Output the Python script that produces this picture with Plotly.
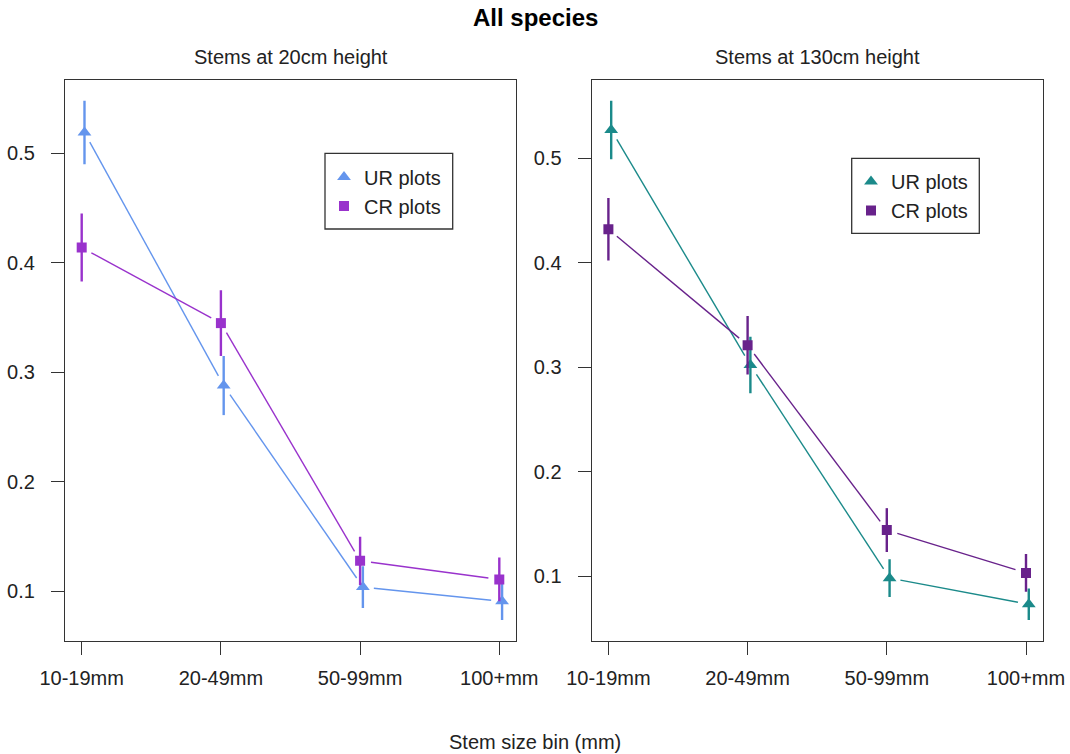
import plotly.graph_objects as go

# ---------------- data ----------------
categories = ["10-19mm", "20-49mm", "50-99mm", "100+mm"]
y_ticks = [0.1, 0.2, 0.3, 0.4, 0.5]

# Stems at 20cm height
ur20 = [0.519, 0.288, 0.104, 0.091]
ur20_err = [0.029, 0.027, 0.019, 0.017]
cr20 = [0.414, 0.345, 0.128, 0.111]
cr20_err = [0.031, 0.030, 0.022, 0.020]

# Stems at 130cm height
ur130 = [0.527, 0.302, 0.098, 0.073]
ur130_err = [0.028, 0.027, 0.018, 0.015]
cr130 = [0.432, 0.321, 0.144, 0.103]
cr130_err = [0.030, 0.028, 0.021, 0.018]

# ---------------- style / layout ----------------
W, H = 1070, 754
FONT = "Liberation Sans, Arial, Helvetica, sans-serif"
UR_OFF = 0.02
x_pos = [1, 2, 3, 4]
X_RANGE = [0.88, 4.12]
ydom = [1 - 640.7 / H, 1 - 80 / H]
xdom1 = [65 / W, 516 / W]
xdom2 = [591.7 / W, 1042.7 / W]

col_ur1, col_cr1 = "#6495ED", "#9932CC"
col_ur2, col_cr2 = "#1B8A8A", "#68228B"


def r_range(*pairs):
    lo = min(v - e for vals, errs in pairs for v, e in zip(vals, errs))
    hi = max(v + e for vals, errs in pairs for v, e in zip(vals, errs))
    span = hi - lo
    return [lo - 0.04 * span, hi + 0.04 * span]


yr1 = r_range((ur20, ur20_err), (cr20, cr20_err))
yr2 = r_range((ur130, ur130_err), (cr130, cr130_err))


def gapped(xs, ys, xdom, yrange, gap=11):
    """R type='b' style: segments between points with a gap around each point."""
    pxx = (xdom[1] - xdom[0]) * W / (X_RANGE[1] - X_RANGE[0])
    pxy = (ydom[1] - ydom[0]) * H / (yrange[1] - yrange[0])
    ox, oy = [], []
    for i in range(len(xs) - 1):
        dx = (xs[i + 1] - xs[i]) * pxx
        dy = (ys[i + 1] - ys[i]) * pxy
        d = (dx ** 2 + dy ** 2) ** 0.5
        f = gap / d
        ox += [xs[i] + (xs[i + 1] - xs[i]) * f, xs[i + 1] - (xs[i + 1] - xs[i]) * f, None]
        oy += [ys[i] + (ys[i + 1] - ys[i]) * f, ys[i + 1] - (ys[i + 1] - ys[i]) * f, None]
    return ox, oy


fig = go.Figure()


def add_panel(ur, ur_err, cr, cr_err, cu, cc, xa, ya, xdom, yrange, legend):
    xu = [x + UR_OFF for x in x_pos]
    xc = list(x_pos)
    for xs, ys, c in ((xu, ur, cu), (xc, cr, cc)):
        gx, gy = gapped(xs, ys, xdom, yrange)
        fig.add_trace(go.Scatter(x=gx, y=gy, mode="lines", line=dict(color=c, width=1.4),
                                 showlegend=False, hoverinfo="skip", xaxis=xa, yaxis=ya))
    fig.add_trace(go.Scatter(
        x=xu, y=ur, mode="markers", name="UR plots",
        marker=dict(symbol="triangle-up", size=12, color=cu),
        error_y=dict(type="data", array=ur_err, color=cu, thickness=2.4, width=0),
        xaxis=xa, yaxis=ya, legend=legend))
    fig.add_trace(go.Scatter(
        x=xc, y=cr, mode="markers", name="CR plots",
        marker=dict(symbol="square", size=10, color=cc),
        error_y=dict(type="data", array=cr_err, color=cc, thickness=2.4, width=0),
        xaxis=xa, yaxis=ya, legend=legend))


add_panel(ur20, ur20_err, cr20, cr20_err, col_ur1, col_cr1, "x", "y", xdom1, yr1, "legend")
add_panel(ur130, ur130_err, cr130, cr130_err, col_ur2, col_cr2, "x2", "y2", xdom2, yr2, "legend2")

axis_common = dict(showline=True, mirror=True, linecolor="#333333", linewidth=1.3,
                   ticks="outside", ticklen=13, tickwidth=1.3, tickcolor="#333333",
                   showgrid=False, zeroline=False, automargin=False,
                   tickfont=dict(size=20, color="#222222", family=FONT))

xaxis_common = dict(axis_common, range=X_RANGE, tickvals=x_pos, ticktext=categories,
                    ticklabelstandoff=6)
yaxis_common = dict(axis_common, tickvals=y_ticks, ticktext=[f"{v:.1f}" for v in y_ticks],
                    ticklabelstandoff=12, domain=ydom)

legend_common = dict(bgcolor="rgba(0,0,0,0)", borderwidth=0,
                     font=dict(size=20, color="#222222", family=FONT),
                     xanchor="left", yanchor="middle", tracegroupgap=0, itemwidth=30)

# legend frames (R-style boxes), in pixel coords converted to paper fractions
leg_boxes = [(325, 153.3, 452.7, 229), (851.7, 158.3, 979.3, 233.3)]
shapes = [dict(type="rect", xref="paper", yref="paper",
               x0=x0 / W, x1=x1 / W, y0=1 - y1 / H, y1=1 - y0 / H,
               line=dict(color="#333333", width=1.3), fillcolor="white", layer="below")
          for x0, y0, x1, y1 in leg_boxes]

fig.update_layout(
    width=W, height=H,
    margin=dict(l=0, r=0, t=0, b=0),
    paper_bgcolor="white", plot_bgcolor="white",
    font=dict(family=FONT, color="#222222"),
    xaxis=dict(xaxis_common, domain=xdom1, anchor="y"),
    yaxis=dict(yaxis_common, range=yr1, anchor="x"),
    xaxis2=dict(xaxis_common, domain=xdom2, anchor="y2"),
    yaxis2=dict(yaxis_common, range=yr2, anchor="x2"),
    legend=dict(legend_common, x=324 / W, y=1 - 191.5 / H),
    legend2=dict(legend_common, x=851 / W, y=1 - 196 / H),
    shapes=shapes,
    annotations=[
        dict(text="<b>All species</b>", x=0.5, y=1 - 18 / H, xref="paper", yref="paper",
             showarrow=False, font=dict(size=24, color="black", family=FONT),
             xanchor="center", yanchor="middle"),
        dict(text="Stems at 20cm height", x=(xdom1[0] + xdom1[1]) / 2, y=1 - 57 / H,
             xref="paper", yref="paper", showarrow=False,
             font=dict(size=20, color="#222222", family=FONT), xanchor="center", yanchor="middle"),
        dict(text="Stems at 130cm height", x=(xdom2[0] + xdom2[1]) / 2, y=1 - 57 / H,
             xref="paper", yref="paper", showarrow=False,
             font=dict(size=20, color="#222222", family=FONT), xanchor="center", yanchor="middle"),
        dict(text="Stem size bin (mm)", x=0.5, y=1 - 742 / H, xref="paper", yref="paper",
             showarrow=False, font=dict(size=20, color="#222222", family=FONT),
             xanchor="center", yanchor="middle"),
    ],
)

fig.write_html("out.html")
